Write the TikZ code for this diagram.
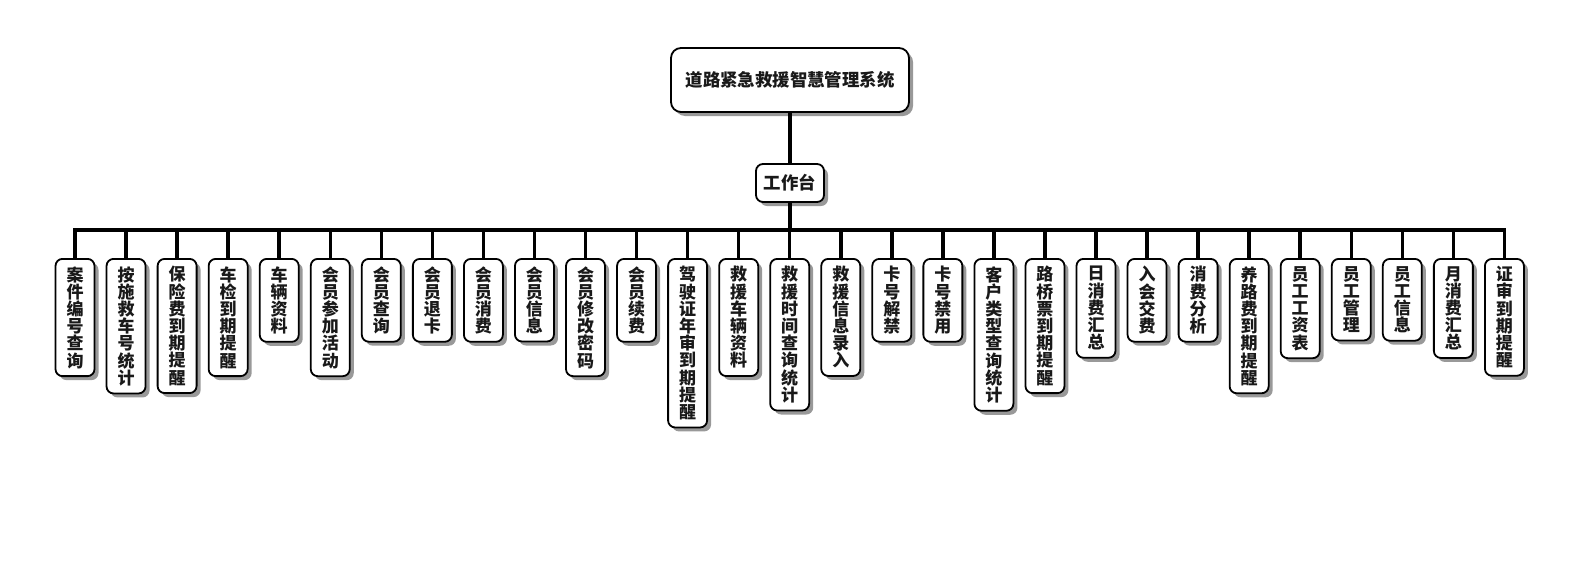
\documentclass[tikz,border=0pt]{standalone}
\usepackage{fontspec}
\usepackage{tikz}
\usetikzlibrary{shadows}
\newfontfamily\cjk{Noto Sans CJK SC}
\XeTeXlinebreaklocale "zh"
\XeTeXlinebreakskip=0pt plus 1pt

\begin{document}
\begin{tikzpicture}
[x=1pt,y=-1pt,line width=3.5pt,
 box/.style={draw=black,line width=1.8pt,fill=white,rounded corners=7pt,
   drop shadow={shadow xshift=4pt,shadow yshift=-4pt,opacity=0.4,fill=black},
   font=\cjk\bfseries\fontsize{17.4}{20}\selectfont,text=black!90},
 leaf/.style={box,anchor=north,text width=18pt,align=center,inner xsep=10.5pt,inner ysep=7.5pt,
   font=\cjk\bfseries\fontsize{17}{17.2}\selectfont}]
\useasboundingbox (0,0) rectangle (1580,560);
\node[box,minimum width=238pt,minimum height=64pt,rounded corners=10pt] (sys) at (790,80) {道路紧急救援智慧管理系统};
\node[box,minimum width=68pt,minimum height=38pt] (desk) at (790,183) {工作台};
\foreach \t [count=\i] in {案件编号查询,按施救车号统计,保险费到期提醒,车检到期提醒,车辆资料,
  会员参加活动,会员查询,会员退卡,会员消费,会员信息,会员修改密码,会员续费,
  驾驶证年审到期提醒,救援车辆资料,救援时间查询统计,救援信息录入,卡号解禁,卡号禁用,
  客户类型查询统计,路桥票到期提醒,日消费汇总,入会交费,消费分析,养路费到期提醒,
  员工工资表,员工管理,员工信息,月消费汇总,证审到期提醒}
  \node[leaf] (m\i) at ({75+51.05*(\i-1)},258) {\t};
% connectors
\draw (sys) -- (desk);
\draw (desk.south) -- ++(0,27) coordinate (bus);
\draw (m1.north) |- (m29.north |- bus) -- (m29.north);
\foreach \i in {2,...,28}
  \draw (bus -| m\i.north) -- (m\i.north);
\end{tikzpicture}
\end{document}
